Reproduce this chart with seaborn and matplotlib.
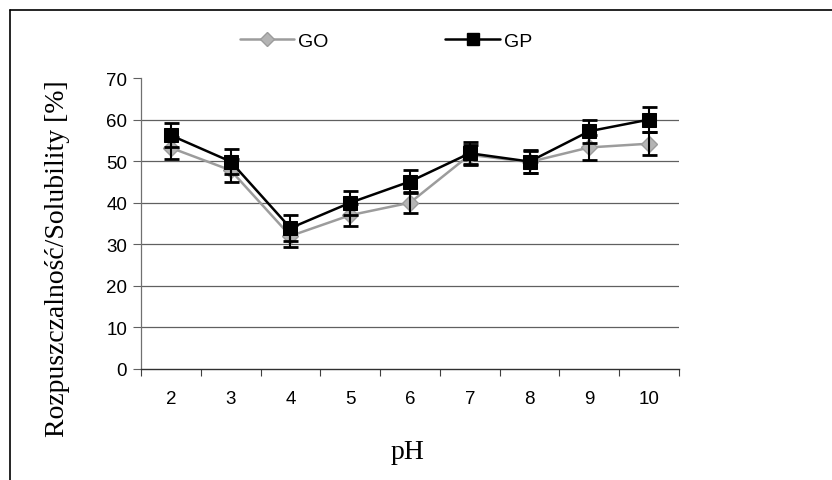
import numpy as np
import pandas as pd
import matplotlib
matplotlib.use("Agg")
import matplotlib.pyplot as plt
from matplotlib.lines import Line2D
import seaborn as sns

# datos
ph = ["2", "3", "4", "5", "6", "7", "8", "9", "10"]
go = [53.2, 47.8, 32.0, 37.0, 40.0, 51.5, 49.8, 53.3, 54.2]
gp = [56.2, 49.9, 33.9, 40.0, 45.1, 51.9, 49.9, 57.2, 60.0]
go_err = [2.7, 2.8, 2.7, 2.6, 2.5, 2.5, 2.7, 3.0, 2.8]
gp_err = [2.9, 3.0, 3.1, 2.9, 2.8, 2.7, 2.8, 2.8, 3.0]
y_ticks = [0, 10, 20, 30, 40, 50, 60, 70]

sns.set_style("white")
plt.rcParams['font.family'] = ['Liberation Sans', 'DejaVu Sans']
plt.rcParams['text.color'] = 'black'

df = pd.DataFrame({'pH': ph, 'GO': go, 'GP': gp})

fig = plt.figure(figsize=(8.32, 4.81), dpi=100)
ax = fig.add_axes([141 / 832, 111 / 481, 538 / 832, 291 / 481])

# grid horizontal (sin linea en 70)
for v in y_ticks[1:-1]:
    ax.axhline(v, color='#606060', lw=0.9, zorder=0)

sns.lineplot(data=df, x='pH', y='GO', ax=ax, color='#9c9c9c', lw=1.8,
             marker='D', markersize=8, markerfacecolor='#b4b4b4',
             markeredgecolor='#9c9c9c', markeredgewidth=1, zorder=3)
sns.lineplot(data=df, x='pH', y='GP', ax=ax, color='black', lw=1.8,
             marker='s', markersize=10, markerfacecolor='black',
             markeredgecolor='black', zorder=4)

ax.errorbar(ph, go, yerr=go_err, fmt='none', ecolor='black', elinewidth=1.5,
            capsize=5.4, capthick=2, zorder=5)
ax.errorbar(ph, gp, yerr=gp_err, fmt='none', ecolor='black', elinewidth=1.5,
            capsize=5.4, capthick=2, zorder=5)

ax.set_xlim(-0.5, len(ph) - 0.5)
ax.set_ylim(0, 70)
ax.set_yticks(y_ticks)
ax.tick_params(axis='y', which='major', direction='out', length=6, width=0.8,
               color='#606060', labelcolor='black', labelsize=13.5, pad=4, left=True)

# ticks en los limites de categorias, etiquetas centradas
ax.set_xticks(np.arange(-0.5, len(ph)), minor=False)
ax.set_xticklabels([])
ax.set_xticks(np.arange(len(ph)), minor=True)
ax.set_xticklabels(ph, minor=True)
ax.tick_params(axis='x', which='major', direction='out', length=5, width=0.8,
               color='#404040', bottom=True)
ax.tick_params(axis='x', which='minor', length=0, labelsize=13.5, pad=15,
               labelcolor='black')

ax.set_xlabel('')
ax.set_ylabel('')
for s in ['top', 'right']:
    ax.spines[s].set_visible(False)
ax.spines['left'].set_color('#707070')
ax.spines['left'].set_linewidth(0.9)
ax.spines['bottom'].set_color('#303030')
ax.spines['bottom'].set_linewidth(1.0)

fig.text(58 / 832, 1 - 259 / 481, 'Rozpuszczalność/Solubility [%]', rotation=90,
         ha='center', va='center', fontsize=20, family=['Liberation Serif', 'DejaVu Serif'])
fig.text(408 / 832, 1 - 453 / 481, 'pH', ha='center', va='center', fontsize=20,
         family=['Liberation Serif', 'DejaVu Serif'])

handles = [
    Line2D([], [], color='#9c9c9c', lw=1.8, marker='D', markersize=7,
           markerfacecolor='#b4b4b4', markeredgecolor='#9c9c9c'),
    Line2D([], [], color='black', lw=1.8, marker='s', markersize=9,
           markerfacecolor='black'),
]
fig.legend(handles, ['GO', 'GP'], loc='center', bbox_to_anchor=(386 / 832, 1 - 42 / 481),
           ncol=2, frameon=False, fontsize=14, handlelength=2.8, handletextpad=0.2,
           columnspacing=6.0, labelcolor='black')

# marco del grafico
fig.add_artist(Line2D([10 / 832, 10 / 832], [0, 1 - 11 / 481], color='black', lw=1.2,
                      transform=fig.transFigure))
fig.add_artist(Line2D([10 / 832, 1], [1 - 11 / 481, 1 - 11 / 481], color='black', lw=1.2,
                      transform=fig.transFigure))

fig.savefig('out.png', dpi=100)
